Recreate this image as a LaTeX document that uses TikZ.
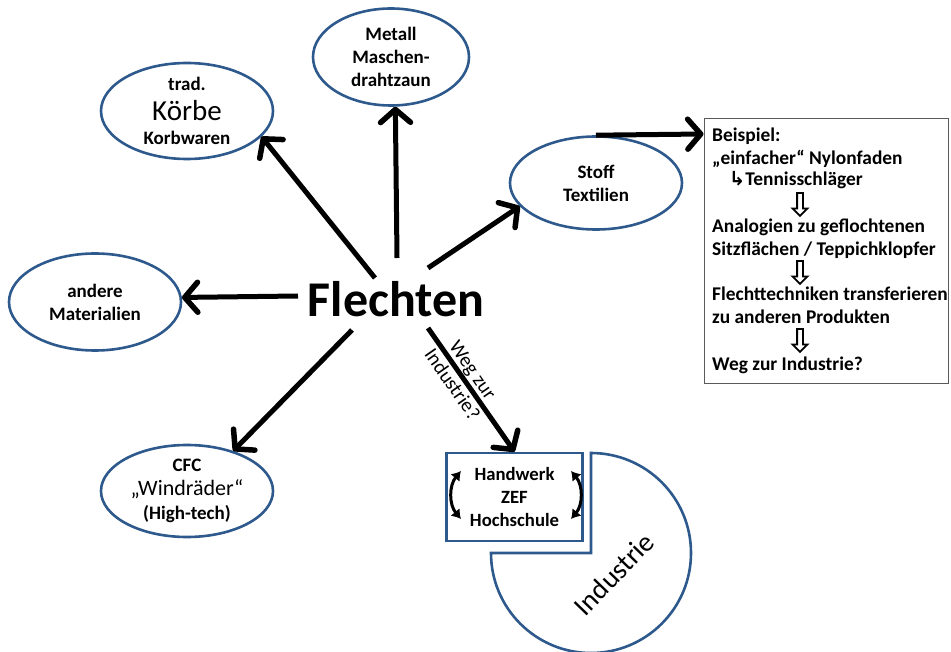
\documentclass[tikz,border=0pt]{standalone}
\usepackage{fontspec}
\setmainfont{Carlito}
\newfontfamily\symfont{DejaVu Sans}
\usetikzlibrary{shapes.geometric,shapes.arrows,arrows.meta}
\definecolor{rand}{RGB}{46,89,140}
\definecolor{grau}{RGB}{90,90,90}
\tikzset{
  kreis/.style={ellipse, draw=rand, line width=2.6pt, inner sep=0pt, align=center,
    font=\fontsize{19}{23}\selectfont\bfseries},
  pfeil/.style={line width=5pt, -{Straight Barb[length=13pt,width=30pt,line width=5.5pt,round]}},
  zeile/.style={anchor=base west, inner sep=0pt, font=\fontsize{19.4}{22}\selectfont\bfseries},
  hohl/.style={single arrow, draw, line width=1.8pt, shape border rotate=270,
    minimum height=23pt, inner sep=2pt, single arrow head extend=4.5pt},
  dreh/.style={line width=3pt, {Latex[length=9pt,width=12pt]}-{Latex[length=9pt,width=12pt]}}
}
\begin{document}
\begin{tikzpicture}[x=1pt,y=-1pt]
  \useasboundingbox (0,0) rectangle (951,652);
  \node[font=\fontsize{50}{50}\selectfont\bfseries, inner sep=0pt] (Fl) at (396,299) {Flechten};
  \draw
    (187,111) node[kreis, minimum width=172pt, minimum height=96pt] (Kb)
      {trad.\\[7pt]{\fontsize{29}{30}\selectfont\mdseries Körbe}\\[1pt]Korbwaren}
    (391,57) node[kreis, minimum width=156pt, minimum height=97pt] (Mt)
      {Metall\\Maschen-\\drahtzaun}
    (596,183) node[kreis, minimum width=172pt, minimum height=93pt] (St)
      {Stoff\\Textilien}
    (95,302) node[kreis, minimum width=172pt, minimum height=97pt] (An)
      {andere\\Materialien}
    (187,491) node[kreis, minimum width=172pt, minimum height=92pt] (Cf)
      {CFC\\[1pt]{\fontsize{22}{24}\selectfont\mdseries „Windräder“}\\[1pt](High-tech)};
  % Handwerk und Industrie
  \node[draw=rand, line width=2.6pt, minimum width=136pt, minimum height=88pt, align=center,
    font=\fontsize{18.7}{23}\selectfont\bfseries] (Hw) at (514.5,497) {Handwerk\\ZEF\\Hochschule};
  \draw[rand, line width=2.6pt] (591,553) -- (591,453) arc[start angle=-90, end angle=180, radius=100] -- cycle;
  \node[rotate=46, font=\fontsize{28}{28}\selectfont] (Ind) at (614,574) {Industrie};
  \coordinate (l1) at (461,471);
  \coordinate (l2) at (461,519);
  \coordinate (r1) at (571,471);
  \coordinate (r2) at (571,519);
  \draw[dreh] (l1) to[bend right=40] (l2);
  \draw[dreh] (r1) to[bend left=40] (r2);
  % Beispiel
  \node[draw=grau, line width=1.2pt, anchor=north west, minimum width=244pt, minimum height=265pt] (Bsp) at (703.5,118) {};
  \node[zeile] (b1) at (712,142) {Beispiel:};
  \node[zeile] (b2) at (712,165) {„einfacher“ Nylonfaden};
  \node[zeile] (b3) at (729,186) {{\symfont\bfseries ↳}Tennisschläger};
  \node[hohl] (h1) at (800,203) {};
  \node[zeile] (b4) at (712,233) {Analogien zu geflochtenen};
  \node[zeile] (b5) at (712,256) {Sitzflächen / Teppichklopfer};
  \node[hohl] (h2) at (800,271) {};
  \node[zeile] (b6) at (712,301) {Flechttechniken transferieren};
  \node[zeile] (b7) at (712,324) {zu anderen Produkten};
  \node[hohl] (h3) at (800,339) {};
  \node[zeile] (b8) at (712,371) {Weg zur Industrie?};
  \begin{scope}[pfeil]
    \draw ([shift={(-21,-21)}]Fl.center) to (Kb.-19);
    \draw ([shift={(1,-41)}]Fl.center) to (Mt.-85);
    \draw ([shift={(32,-31)}]Fl.center) to (St.197);
    \draw ([shift={(-98,-3)}]Fl.center) to (An.3);
    \draw ([shift={(-44,31)}]Fl.center) to (Cf.41);
    \draw ([shift={(32,29)}]Fl.center) to node[sloped, pos=0.4, align=center, inner sep=0pt,
      font=\fontsize{20}{25}\selectfont] (Wg) {Weg zur\\Industrie?} (Hw.north);
    \draw (St.north) to ([yshift=-16pt]Bsp.north west);
  \end{scope}
\end{tikzpicture}
\end{document}
